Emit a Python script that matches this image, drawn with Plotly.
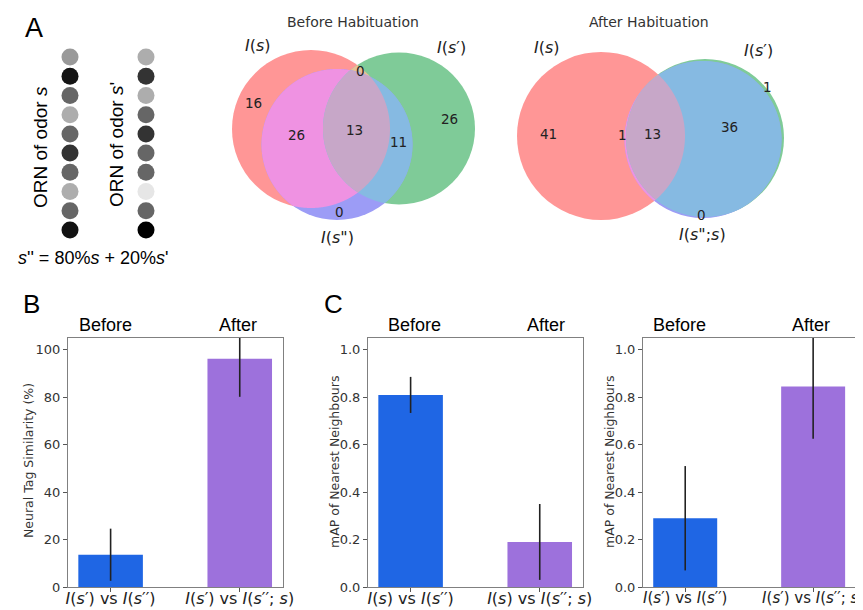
import numpy as np
import plotly.graph_objects as go

# page offset caused by the default 8px body margin of the html page
OFF = 8
FW, FH = 855, 602

# ---------------- data ----------------
# grey level of each ORN dot (0 = black, 1 = white)
orn_s = [0.60, 0.08, 0.40, 0.68, 0.40, 0.20, 0.40, 0.68, 0.40, 0.07]
orn_s2 = [0.68, 0.20, 0.68, 0.40, 0.20, 0.40, 0.40, 0.90, 0.40, 0.00]

# Venn regions: membership flags (I(s), I(s'), I(s''))
venn_regions = ["100", "010", "110", "001", "101", "011", "111"]
before_counts = [16, 26, 0, 0, 26, 11, 13]
after_counts = [41, 1, 0, 0, 1, 36, 13]

# panel B
b_ticks = ["<i>I</i>(<i>s</i>′) vs <i>I</i>(<i>s</i>′′)",
           "<i>I</i>(<i>s</i>′) vs <i>I</i>(<i>s</i>′′; <i>s</i>)"]
b_vals = [13.6, 96.2]
b_err = [11.0, 16.0]

# panel C left
c1_ticks = ["<i>I</i>(<i>s</i>) vs <i>I</i>(<i>s</i>′′)",
            "<i>I</i>(<i>s</i>) vs <i>I</i>(<i>s</i>′′; <i>s</i>)"]
c1_vals = [0.81, 0.19]
c1_err = [0.076, 0.16]

# panel C right
c2_ticks = ["<i>I</i>(<i>s</i>′) vs <i>I</i>(<i>s</i>′′)",
            "<i>I</i>(<i>s</i>′) vs <i>I</i>(<i>s</i>′′; <i>s</i>)"]
c2_vals = [0.29, 0.845]
c2_err = [0.22, 0.22]

b_yticks = [0, 20, 40, 60, 80, 100]
c_yticks = [0.0, 0.2, 0.4, 0.6, 0.8, 1.0]

# ---------------- styling / layout constants ----------------
BLUE = "#1f66e4"
PURPLE = "#9d71dc"
SANS = "DejaVu Sans"
ARIAL = "Liberation Sans"

venn_colors = {"100": "#ff9696", "010": "#7fcb98", "001": "#9c9cf6",
               "110": "#e6bf98", "101": "#ef92e2", "011": "#86bae2",
               "111": "#c7a7c8"}

before_circles = [(311, 129, 79), (399, 128.5, 76), (337, 144.5, 75.5)]
after_circles = [(601, 136, 84), (705, 138, 79), (703, 139.5, 78.5)]
before_pos = {"100": (253, 103), "010": (449, 119), "110": (360, 71), "001": (339, 212),
              "101": (296, 135), "011": (398, 142), "111": (354, 130)}
after_pos = {"100": (548, 134), "010": (767, 87), "110": None, "001": (701, 215),
             "101": (622, 135), "011": (729, 127), "111": (652, 134)}


def px(x):
    return (x - OFF) / FW


def py(y):
    return 1 - (y - OFF) / FH


fig = go.Figure()

# ---------------- panel A dots ----------------
def grey(v):
    g = int(round(v * 255))
    return f"rgb({g},{g},{g})"

fig.add_trace(go.Scatter(
    x=[0] * len(orn_s) + [1] * len(orn_s2),
    y=list(range(len(orn_s))) + list(range(len(orn_s2))),
    mode="markers",
    marker=dict(size=17, color=[grey(v) for v in orn_s + orn_s2], line=dict(width=0)),
    xaxis="x4", yaxis="y4", showlegend=False, hoverinfo="skip"))

# ---------------- bars ----------------
def add_bars(vals, err, xa, ya):
    fig.add_trace(go.Bar(
        x=[0, 1], y=vals, width=0.5, marker=dict(color=[BLUE, PURPLE], line=dict(width=0)),
        error_y=dict(type="data", array=err, width=0, thickness=1.6, color="#222"),
        xaxis=xa, yaxis=ya, showlegend=False))

add_bars(b_vals, b_err, "x", "y")
add_bars(c1_vals, c1_err, "x2", "y2")
add_bars(c2_vals, c2_err, "x3", "y3")

# ---------------- Venn diagrams ----------------
def region_poly(circles, n=1440):
    pts = []
    for i, (cx, cy, r) in enumerate(circles):
        t = np.linspace(0, 2 * np.pi, n, endpoint=False)
        xs = cx + r * np.cos(t)
        ys = cy + r * np.sin(t)
        m = np.ones(n, bool)
        for j, (ox, oy, orr) in enumerate(circles):
            if j != i:
                m &= (xs - ox) ** 2 + (ys - oy) ** 2 <= orr ** 2 + 1e-6
        pts += list(zip(xs[m], ys[m]))
    pts = np.array(pts)
    c = pts.mean(0)
    ang = np.arctan2(pts[:, 1] - c[1], pts[:, 0] - c[0])
    return pts[np.argsort(ang)]


shapes = []


def venn_shapes(circles):
    keys = ["100", "010", "001"]
    for k, (cx, cy, r) in zip(keys, circles):
        shapes.append(dict(type="circle", xref="paper", yref="paper",
                           x0=px(cx - r), x1=px(cx + r), y0=py(cy + r), y1=py(cy - r),
                           fillcolor=venn_colors[k], line=dict(width=0), layer="below"))
    for k, idx in [("110", (0, 1)), ("101", (0, 2)), ("011", (1, 2)), ("111", (0, 1, 2))]:
        p = region_poly([circles[i] for i in idx])
        path = "M " + " L ".join(f"{px(a):.5f},{py(b):.5f}" for a, b in p) + " Z"
        shapes.append(dict(type="path", xref="paper", yref="paper", path=path,
                           fillcolor=venn_colors[k], line=dict(width=0), layer="below"))


venn_shapes(before_circles)
venn_shapes(after_circles)

annotations = []


def ann(text, x, y, size, color="#000", family=SANS, angle=0, xanchor="center"):
    annotations.append(dict(text=text, x=px(x), y=py(y), xref="paper", yref="paper",
                            showarrow=False, xanchor=xanchor, yanchor="middle",
                            textangle=angle, font=dict(size=size, color=color, family=family)))


for reg, cnt in zip(venn_regions, before_counts):
    if before_pos[reg] is not None:
        ann(str(cnt), *before_pos[reg], 13.5, "#222")
for reg, cnt in zip(venn_regions, after_counts):
    if after_pos[reg] is not None:
        ann(str(cnt), *after_pos[reg], 13.5, "#222")

ann("Before Habituation", 353, 22, 14, "#333")
ann("After Habituation", 649, 22, 14, "#333")
ann("<i>I</i>(<i>s</i>)", 258, 45, 16, "#222")
ann("<i>I</i>(<i>s</i>′)", 452, 48, 16, "#222")
ann("<i>I</i>(<i>s</i>\")", 337, 238, 16, "#222")
ann("<i>I</i>(<i>s</i>)", 547, 47, 16, "#222")
ann("<i>I</i>(<i>s</i>′)", 758, 50, 16, "#222")
ann("<i>I</i>(<i>s</i>\";<i>s</i>)", 702, 234, 16, "#222")

# panel A text
ann("A", 34, 28, 27, "#000", ARIAL)
ann("ORN of odor <i>s</i>", 40, 147, 19, "#000", ARIAL, angle=-90)
ann("ORN of odor <i>s</i>'", 116, 145, 19, "#000", ARIAL, angle=-90)
ann("<i>s</i>'' = 80%<i>s</i> + 20%<i>s</i>'", 93, 258, 18, "#000", ARIAL)

# panel letters and Before/After headers
ann("B", 31, 304, 26, "#000", ARIAL)
ann("C", 333, 304, 26, "#000", ARIAL)
for xb, xa in [(105, 238), (414, 546), (679, 811)]:
    ann("Before", xb, 325, 18, "#000", ARIAL)
    ann("After", xa, 325, 18, "#000", ARIAL)

# y-axis titles
ann("Neural Tag Similarity (%)", 28, 461, 12.5, "#333", SANS, angle=-90)
ann("mAP of Nearest Neighbours", 334, 462, 12.5, "#333", SANS, angle=-90)
ann("mAP of Nearest Neighbours", 609, 462, 12.5, "#333", SANS, angle=-90)

# ---------------- axes ----------------
y_dom = [py(587), py(338)]


def xax(l, r, ticks, anchor, fsize=16):
    return dict(domain=[px(l), px(r)], range=[-0.33, 1.335], tickvals=[0, 1], ticktext=ticks,
                showline=True, mirror=True, linecolor="#808080", linewidth=1,
                ticks="outside", ticklen=4, tickcolor="#555", showgrid=False, zeroline=False,
                tickfont=dict(family=SANS, size=fsize, color="#222"), fixedrange=True,
                ticklabelstandoff=-7, ticklabeloverflow="allow",
                anchor=anchor, automargin=False)


def yax(rng, tv, tt, anchor):
    return dict(domain=y_dom, range=rng, tickvals=tv, ticktext=tt,
                showline=True, mirror=True, linecolor="#808080", linewidth=1,
                ticks="outside", ticklen=4, tickcolor="#555", showgrid=False, zeroline=False,
                tickfont=dict(family=SANS, size=13, color="#333"),
                fixedrange=True, anchor=anchor, automargin=False)


fig.update_layout(
    width=FW, height=FH, margin=dict(l=0, r=0, t=0, b=0, autoexpand=False),
    paper_bgcolor="white", plot_bgcolor="white", showlegend=False,
    xaxis=xax(68, 283, b_ticks, "y"),
    yaxis=yax([0, 105], b_yticks, [str(v) for v in b_yticks], "x"),
    xaxis2=xax(368, 583, c1_ticks, "y2"),
    yaxis2=yax([0, 1.05], c_yticks, [f"{v:.1f}" for v in c_yticks], "x2"),
    xaxis3=xax(643, 856, c2_ticks, "y3", fsize=15),
    yaxis3=yax([0, 1.05], c_yticks, [f"{v:.1f}" for v in c_yticks], "x3"),
    xaxis4=dict(domain=[px(32), px(184)], range=[-0.5, 1.5], visible=False,
                fixedrange=True, anchor="y4", automargin=False),
    yaxis4=dict(domain=[py(239.6), py(47.4)], range=[9.5, -0.5], visible=False,
                fixedrange=True, anchor="x4", automargin=False),
    shapes=shapes, annotations=annotations,
)

fig.write_html("out.html")
